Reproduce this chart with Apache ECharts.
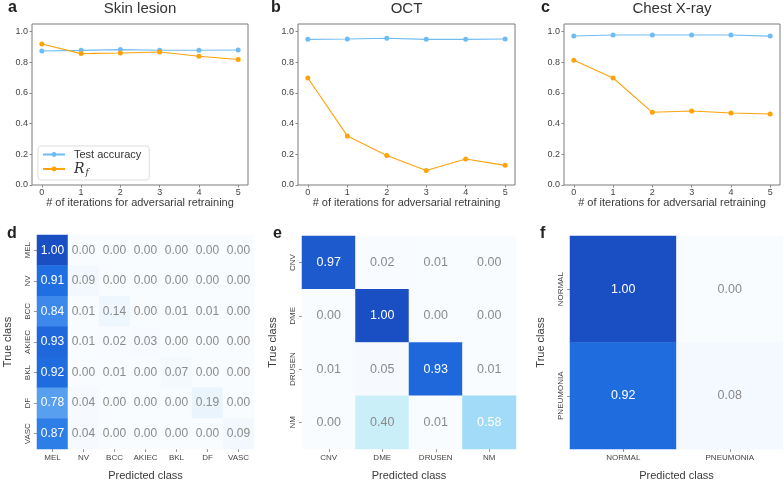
<!DOCTYPE html>
<html><head><meta charset="utf-8">
<script src="https://cdn.jsdelivr.net/npm/echarts@6/dist/echarts.min.js"></script>
<style>html,body{margin:0;padding:0;background:#fff}#c{width:784px;height:483px}</style>
</head><body><div id="c"></div>
<script>
// ---- data ----
const iterations = [0, 1, 2, 3, 4, 5];
const yTicks = [0, 0.2, 0.4, 0.6, 0.8, 1.0];
const skinAcc = [0.874, 0.878, 0.883, 0.879, 0.879, 0.880];
const skinRf  = [0.920, 0.857, 0.861, 0.867, 0.840, 0.818];
const octAcc  = [0.950, 0.952, 0.957, 0.950, 0.950, 0.952];
const octRf   = [0.698, 0.320, 0.192, 0.094, 0.170, 0.128];
const cxrAcc  = [0.972, 0.978, 0.978, 0.978, 0.978, 0.971];
const cxrRf   = [0.813, 0.698, 0.474, 0.483, 0.470, 0.463];

const skinClasses = ['MEL', 'NV', 'BCC', 'AKIEC', 'BKL', 'DF', 'VASC'];
const skinCM = [
  [1.00, 0.00, 0.00, 0.00, 0.00, 0.00, 0.00],
  [0.91, 0.09, 0.00, 0.00, 0.00, 0.00, 0.00],
  [0.84, 0.01, 0.14, 0.00, 0.01, 0.01, 0.00],
  [0.93, 0.01, 0.02, 0.03, 0.00, 0.00, 0.00],
  [0.92, 0.00, 0.01, 0.00, 0.07, 0.00, 0.00],
  [0.78, 0.04, 0.00, 0.00, 0.00, 0.19, 0.00],
  [0.87, 0.04, 0.00, 0.00, 0.00, 0.00, 0.09]
];
const octClasses = ['CNV', 'DME', 'DRUSEN', 'NM'];
const octCM = [
  [0.97, 0.02, 0.01, 0.00],
  [0.00, 1.00, 0.00, 0.00],
  [0.01, 0.05, 0.93, 0.01],
  [0.00, 0.40, 0.01, 0.58]
];
const cxrClasses = ['NORMAL', 'PNEUMONIA'];
const cxrCM = [
  [1.00, 0.00],
  [0.92, 0.08]
];

// ---- styling ----
const FONT = "'Liberation Sans', Arial, Helvetica, sans-serif";
const BLUE = '#6fbcf3', ORANGE = '#ffa20c';
const cmap = ['#f9fcff', '#f2f8fe', '#e8f4fd', '#dcf2fb', '#cbeff8', '#b6e6f8',
              '#9cd8f8', '#7cbcf4', '#4f98ee', '#2073e6', '#1a4fc4'];

const lineGrids = [
  {left: 32, top: 24, width: 216, height: 161},
  {left: 298, top: 24, width: 217, height: 161},
  {left: 564, top: 24, width: 216, height: 161}
];
const heatGrids = [
  {left: 37, top: 235, width: 217, height: 214},
  {left: 302, top: 236, width: 214, height: 213},
  {left: 570, top: 236, width: 213, height: 213}
];
const grids = lineGrids.concat(heatGrids).map(g => Object.assign({
  show: false, containLabel: false
}, g));
lineGrids.forEach((g, i) => { Object.assign(grids[i], {show: true, borderColor: '#7a7a7a', borderWidth: 1, backgroundColor: 'transparent'}); });

const xAxes = [], yAxes = [], series = [];
const lineSets = [[skinAcc, skinRf], [octAcc, octRf], [cxrAcc, cxrRf]];
lineSets.forEach((set, i) => {
  xAxes.push({
    type: 'value', gridIndex: i, min: -0.25, max: 5.25,
    name: '# of iterations for adversarial retraining', nameLocation: 'middle', nameGap: 11,
    nameTextStyle: {fontFamily: FONT, fontSize: 11, color: '#3a3a3a'},
    axisLine: {show: false, onZero: false}, splitLine: {show: false},
    axisTick: {show: true, length: 2.5, lineStyle: {color: '#888'}, customValues: iterations},
    axisLabel: {fontFamily: FONT, fontSize: 9, color: '#444', margin: 3, customValues: iterations,
      formatter: v => String(v)}
  });
  yAxes.push({
    type: 'value', gridIndex: i, min: 0, max: 1.05,
    axisLine: {show: false, onZero: false}, splitLine: {show: false},
    axisTick: {show: true, length: 2.5, lineStyle: {color: '#888'}, customValues: yTicks},
    axisLabel: {fontFamily: FONT, fontSize: 9, color: '#444', margin: 4, customValues: yTicks,
      formatter: v => v.toFixed(1)}
  });
  const mk = (name, arr, color) => ({
    name, type: 'line', xAxisIndex: i, yAxisIndex: i,
    data: iterations.map((x, k) => [x, arr[k]]),
    symbol: 'circle', symbolSize: 5, showSymbol: true,
    lineStyle: {width: 1.1, color}, itemStyle: {color}, z: 3, animation: false
  });
  series.push(mk('Test accuracy', set[0], BLUE));
  series.push(mk('R_f', set[1], ORANGE));
});

const heatSets = [[skinClasses, skinCM, 12], [octClasses, octCM, 12.5], [cxrClasses, cxrCM, 12.5]];
heatSets.forEach((h, k) => {
  const gi = 3 + k;
  const cls = h[0], cm = h[1];
  xAxes.push({
    type: 'category', gridIndex: gi, data: cls,
    name: 'Predicted class', nameLocation: 'middle', nameGap: 21,
    nameTextStyle: {fontFamily: FONT, fontSize: 11, color: '#3a3a3a'},
    axisLine: {show: false, onZero: false}, splitLine: {show: false},
    axisTick: {show: true, alignWithLabel: true, interval: 0, length: 3, lineStyle: {color: '#999'}},
    axisLabel: {fontFamily: FONT, fontSize: 8, color: '#444', margin: 5, interval: 0}
  });
  yAxes.push({
    type: 'category', gridIndex: gi, data: cls, inverse: true,
    name: 'True class', nameLocation: 'middle', nameGap: 23.5, nameRotate: 90,
    nameTextStyle: {fontFamily: FONT, fontSize: 11, color: '#3a3a3a'},
    axisLine: {show: false, onZero: false}, splitLine: {show: false},
    axisTick: {show: true, alignWithLabel: true, interval: 0, length: 3, lineStyle: {color: '#999'}},
    axisLabel: {fontFamily: FONT, fontSize: 8, color: '#444', margin: 5, rotate: 90, interval: 0}
  });
  const data = [];
  cm.forEach((row, r) => row.forEach((v, c) => {
    data.push({value: [c, r, v], label: {color: v > 0.5 ? '#ffffff' : '#8a8a8a'}});
  }));
  series.push({
    type: 'heatmap', xAxisIndex: gi, yAxisIndex: gi, data,
    label: {show: true, fontFamily: FONT, fontSize: h[2], formatter: p => p.value[2].toFixed(2)},
    itemStyle: {borderWidth: 0}, emphasis: {disabled: true}, animation: false
  });
});

const titles = [
  {text: 'Skin lesion', left: 140, top: 1},
  {text: 'OCT', left: 406.5, top: 1},
  {text: 'Chest X-ray', left: 672, top: 1}
].map(t => Object.assign(t, {textAlign: 'center', padding: 0,
  textStyle: {fontFamily: FONT, fontSize: 15, fontWeight: 'normal', color: '#333'}}));
const letters = [
  ['a', 8, 0], ['b', 271, 0], ['c', 541, 0], ['d', 7, 226], ['e', 273, 226], ['f', 540, 226]
].map(l => ({text: l[0], left: l[1], top: l[2], padding: 0,
  textStyle: {fontFamily: FONT, fontSize: 16, fontWeight: 'bold', color: '#222'}}));

const option = {
  animation: false,
  backgroundColor: '#ffffff',
  title: titles.concat(letters),
  grid: grids,
  xAxis: xAxes,
  yAxis: yAxes,
  legend: {
    data: ['Test accuracy', 'R_f'], orient: 'vertical', left: 38, top: 146,
    padding: [3, 8, 3, 4], itemGap: 2, itemWidth: 22, itemHeight: 6,
    backgroundColor: '#fff', borderColor: '#dddddd', borderWidth: 1, borderRadius: 3,
    selectedMode: false,
    formatter: n => n === 'R_f' ? '{it|R}{sub|f}' : n,
    textStyle: {fontFamily: FONT, fontSize: 11, color: '#333', padding: [0, 0, 0, 4],
      rich: {
        it: {fontFamily: "'DejaVu Serif', serif", fontStyle: 'italic', fontSize: 14, color: '#333'},
        sub: {fontFamily: "'DejaVu Serif', serif", fontStyle: 'italic', fontSize: 9, color: '#333', padding: [7, 0, 0, 1]}
      }}
  },
  visualMap: {
    type: 'continuous', show: false, min: 0, max: 1, seriesIndex: [6, 7, 8],
    inRange: {color: cmap}
  },
  series
};
const chart = echarts.init(document.getElementById('c'), null, {renderer: 'canvas'});
chart.setOption(option);
</script></body></html>
